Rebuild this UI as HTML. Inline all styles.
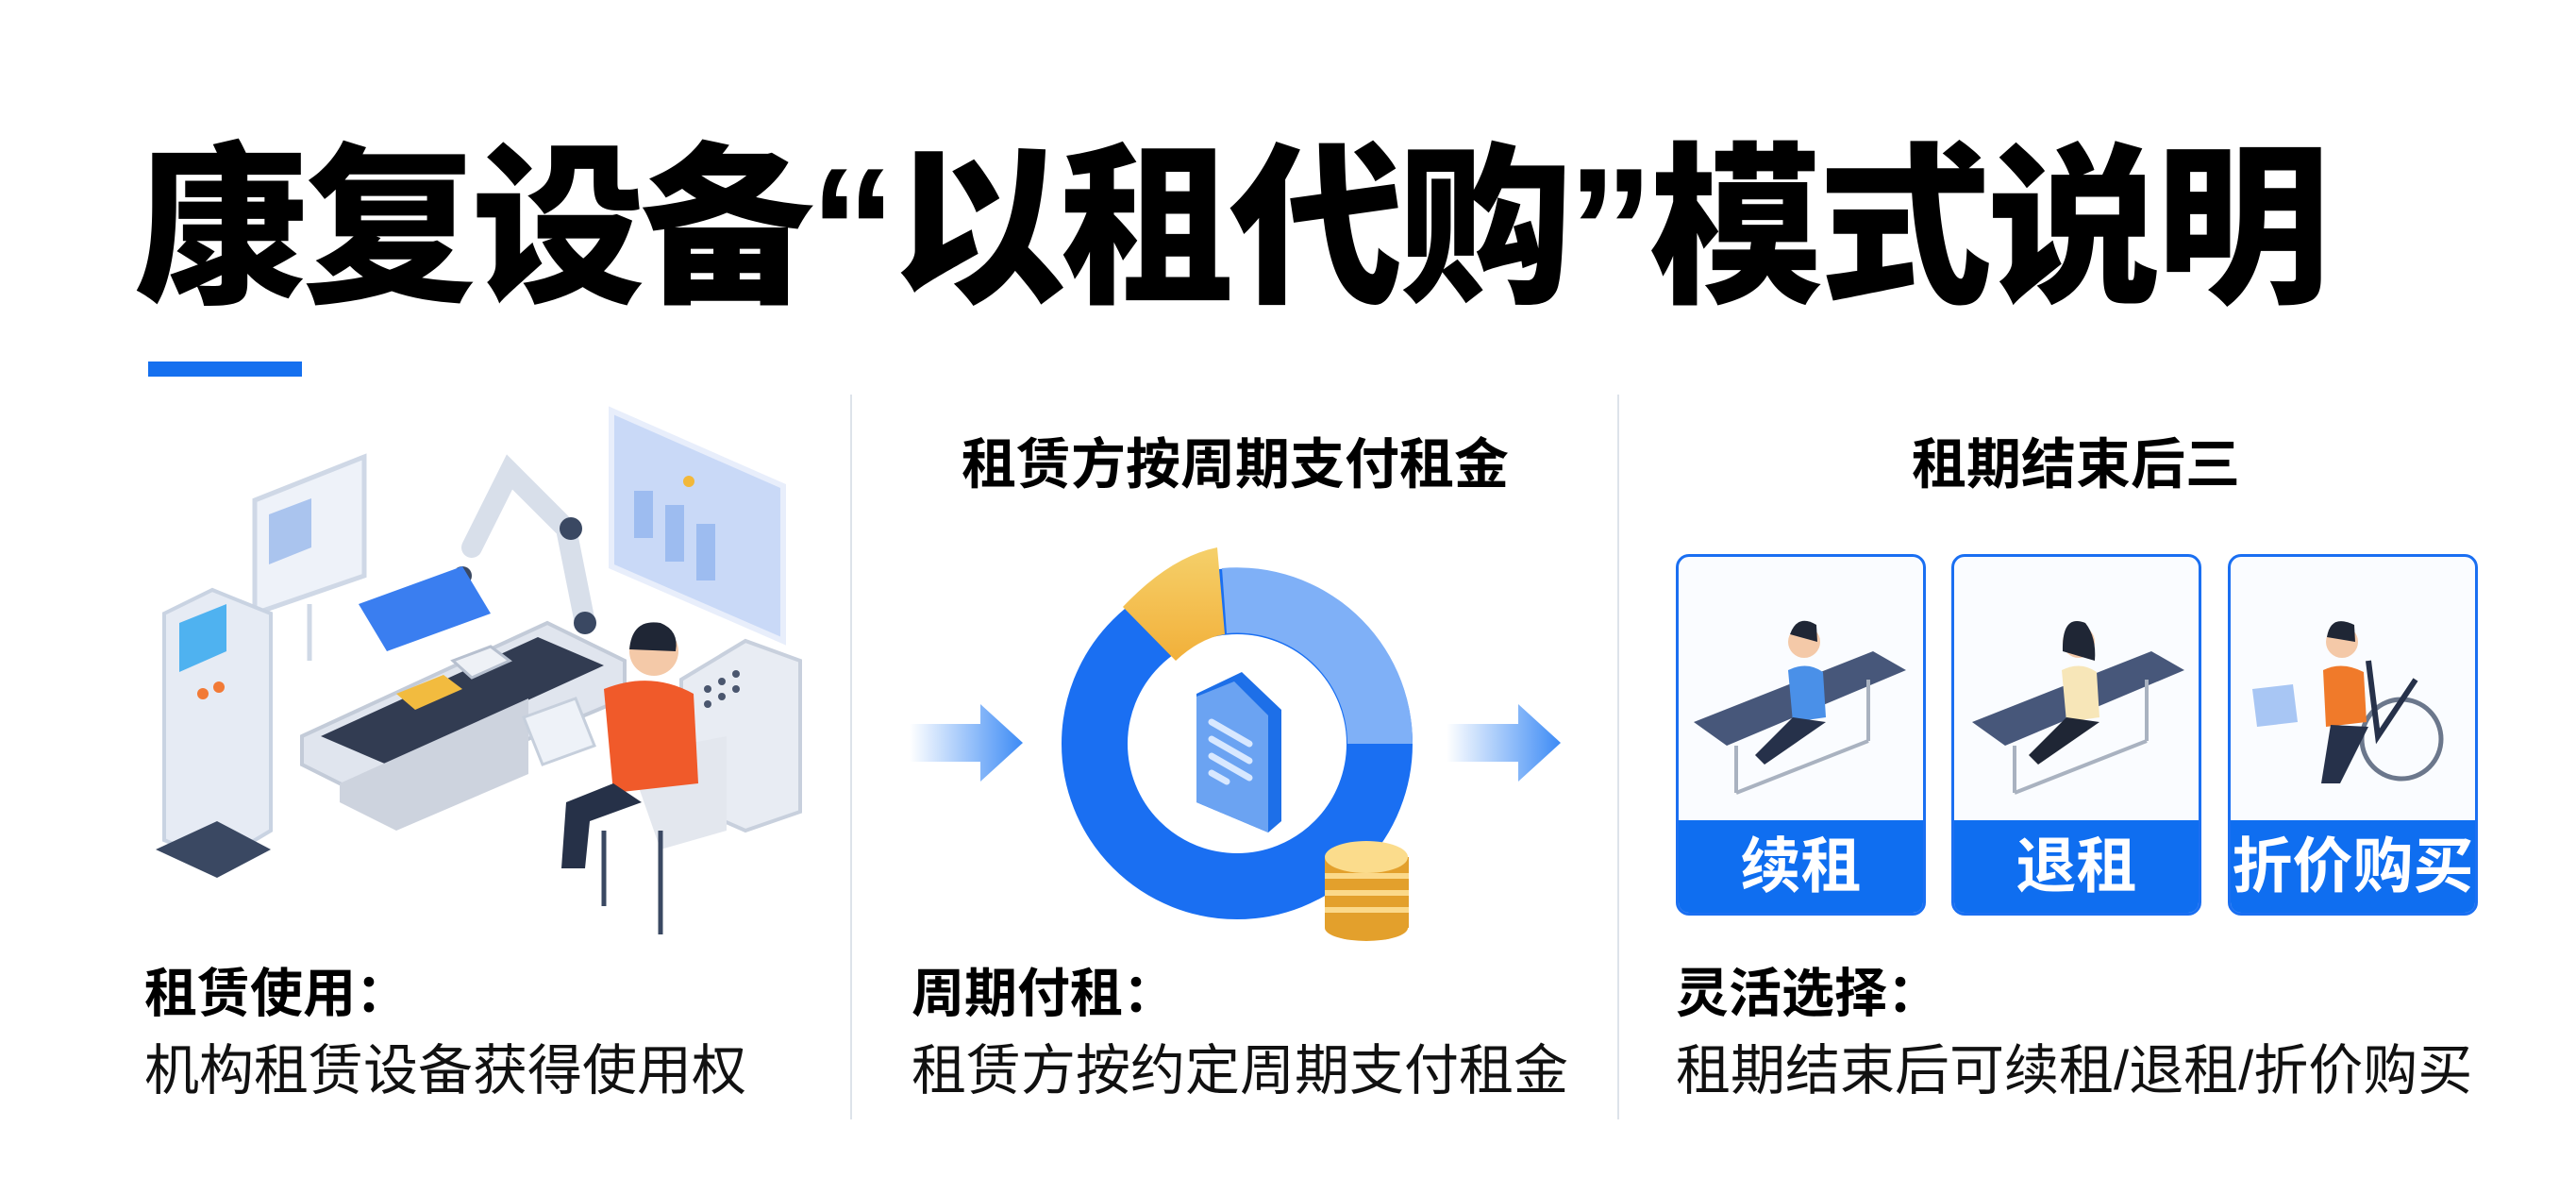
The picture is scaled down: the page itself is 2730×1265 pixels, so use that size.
<!DOCTYPE html>
<html><head><meta charset="utf-8"><style>
body{margin:0;width:2730px;height:1265px;background:#fff;position:relative;overflow:hidden;font-family:"Liberation Sans","Noto Sans CJK SC",sans-serif;color:#000}
.a{position:absolute;white-space:nowrap}
.t{left:142px;top:132px;font-size:184px;font-weight:900;letter-spacing:-5px;line-height:220px}
.h{font-size:58px;font-weight:700;line-height:70px;text-align:center}
.b1{font-size:56px;font-weight:700;line-height:70px}
.b2{font-size:58px;font-weight:400;line-height:70px;color:#111}
.lab{font-size:64px;font-weight:700;color:#fff;text-align:center;line-height:98px}
</style></head><body>
<div class="a t">康复设备“以租代购”模式说明</div>
<div class="a" style="left:157px;top:383px;width:163px;height:16px;background:#1570ef"></div>
<div class="a" style="left:901px;top:418px;width:2px;height:768px;background:#dde3ea"></div>
<div class="a" style="left:1714px;top:418px;width:2px;height:768px;background:#dde3ea"></div>

<div class="a h" style="left:1009px;width:600px;top:458px">租赁方按周期支付租金</div>
<div class="a h" style="left:1900px;width:600px;top:458px">租期结束后三</div>

<svg class="a" style="left:0;top:0" width="2730" height="1265">
<defs>
<linearGradient id="ar" x1="0" x2="1"><stop offset="0" stop-color="#3d8bf5" stop-opacity="0"/><stop offset="1" stop-color="#3d8bf5"/></linearGradient>
<linearGradient id="yl" x1="0" y1="0" x2="0" y2="1"><stop offset="0" stop-color="#f5d06a"/><stop offset="1" stop-color="#f2b03a"/></linearGradient>
</defs>
<polygon points="964,767 1039,767 1039,746 1084,787 1039,828 1039,807 964,807" fill="url(#ar)"/>
<polygon points="1533,767 1609,767 1609,746 1654,787 1609,828 1609,807 1533,807" fill="url(#ar)"/>
<circle cx="1311" cy="788" r="151" fill="none" stroke="#1a6ff2" stroke-width="70"/>
<path d="M1295,602 A186,186 0 0 1 1497,788 L1428,788 A117,117 0 0 0 1300,671 Z" fill="#7fb0f7"/>
<path d="M1190,643 Q1240,590 1290,580 L1298,672 Q1272,676 1246,700 Z" fill="url(#yl)"/>
<path d="M1268,735 L1316,712 L1358,752 L1358,870 L1344,882 L1268,850 Z" fill="#1d6fe8"/>
<path d="M1268,738 L1308,722 L1344,758 L1344,882 L1268,850 Z" fill="#6ba3f2"/>
<g stroke="#d8e8ff" stroke-width="7" stroke-linecap="round"><line x1="1284" y1="765" x2="1324" y2="788"/><line x1="1284" y1="783" x2="1324" y2="806"/><line x1="1284" y1="801" x2="1324" y2="824"/><line x1="1284" y1="819" x2="1300" y2="828"/></g>
<rect x="1404" y="908" width="89" height="75" fill="#e3a02c"/>
<g fill="#fbd98a"><rect x="1404" y="925" width="89" height="6"/><rect x="1404" y="943" width="89" height="6"/><rect x="1404" y="961" width="89" height="6"/></g>
<ellipse cx="1448" cy="983" rx="44" ry="14" fill="#e3a02c"/>
<ellipse cx="1448" cy="908" rx="44" ry="17" fill="#fbdc8c"/>

<polygon points="648,435 830,515 830,679 648,600" fill="#c9d9f7" stroke="#e8eefb" stroke-width="6"/>
<g fill="#9dbcf0"><rect x="672" y="520" width="20" height="50"/><rect x="705" y="535" width="20" height="60"/><rect x="738" y="555" width="20" height="60"/></g>
<circle cx="730" cy="510" r="6" fill="#f2b83a"/>
<polygon points="270,530 386,484 386,610 270,650" fill="#eef2f9" stroke="#cfd8e6" stroke-width="5"/>
<polygon points="285,545 330,528 330,580 285,598" fill="#aac4ee"/>
<line x1="328" y1="640" x2="328" y2="700" stroke="#cfd8e6" stroke-width="5"/>
<polygon points="174,650 225,625 287,650 287,880 230,914 174,890" fill="#e6ebf4" stroke="#c9d3e2" stroke-width="4"/>
<polygon points="190,660 240,640 240,690 190,712" fill="#4fb2f0"/>
<g fill="#f27a36"><circle cx="215" cy="735" r="6"/><circle cx="232" cy="728" r="6"/></g>
<polygon points="165,900 230,930 287,900 230,870" fill="#3a4862"/>
<path d="M500,580 L540,500 L600,560 L620,660" fill="none" stroke="#d8dfea" stroke-width="22" stroke-linecap="round"/>
<circle cx="490" cy="610" r="10" fill="#3a4862"/><circle cx="605" cy="560" r="12" fill="#3a4862"/><circle cx="620" cy="660" r="12" fill="#3a4862"/>
<polygon points="380,640 490,600 520,650 410,690" fill="#3a7ef0"/>
<polygon points="320,780 580,660 662,700 662,740 400,850 320,810" fill="#e0e5ee" stroke="#c3cbd8" stroke-width="4"/>
<polygon points="340,780 570,675 640,705 410,810" fill="#323c52"/>
<polygon points="420,735 470,715 490,730 440,752" fill="#f2bb3f"/>
<polygon points="480,700 520,685 540,700 500,718" fill="#eef1f6" stroke="#b7c0cf" stroke-width="3"/>
<polygon points="360,830 560,740 560,820 420,880 360,850" fill="#cdd3de"/>
<polygon points="722,720 790,679 848,700 848,860 790,880 722,850" fill="#e8ecf3" stroke="#c8d0dd" stroke-width="4"/>
<g fill="#4a566e"><circle cx="750" cy="730" r="4"/><circle cx="765" cy="722" r="4"/><circle cx="780" cy="714" r="4"/><circle cx="750" cy="746" r="4"/><circle cx="765" cy="738" r="4"/><circle cx="780" cy="730" r="4"/></g>
<polygon points="665,800 770,780 770,880 700,900" fill="#e3e7ee"/>
<circle cx="693" cy="690" r="26" fill="#f4c9a8"/><path d="M667,688 Q670,655 700,660 Q720,668 716,690 Z" fill="#1f2635"/>
<path d="M640,730 Q690,710 735,735 L740,830 L650,840 Z" fill="#f05a2a"/>
<polygon points="555,760 610,740 630,790 575,810" fill="#eef2f8" stroke="#c6cfdc" stroke-width="3"/>
<path d="M650,830 L600,850 L595,920 L620,920 L625,870 L680,850 Z" fill="#263148"/>
<line x1="700" y1="880" x2="700" y2="990" stroke="#3a4862" stroke-width="5"/>
<line x1="640" y1="880" x2="640" y2="960" stroke="#3a4862" stroke-width="5"/>
</svg>

<div class="a" style="left:1776px;top:587px;width:259px;height:377px;border:3px solid #1a6ff2;border-radius:14px;overflow:hidden;background:#fafcff">
<div style="position:absolute;left:0;right:0;bottom:0;height:98px;background:#0f6ef0" class="lab">续租</div></div>
<div class="a" style="left:2068px;top:587px;width:259px;height:377px;border:3px solid #1a6ff2;border-radius:14px;overflow:hidden;background:#fafcff">
<div style="position:absolute;left:0;right:0;bottom:0;height:98px;background:#0f6ef0" class="lab">退租</div></div>
<div class="a" style="left:2361px;top:587px;width:259px;height:377px;border:3px solid #1a6ff2;border-radius:14px;overflow:hidden;background:#fafcff">
<div style="position:absolute;left:0;right:0;bottom:0;height:98px;background:#0f6ef0" class="lab">折价购买</div></div>
<svg class="a" style="left:0;top:0" width="2730" height="1265">
<polygon points="1795,765 1985,690 2020,710 1830,790" fill="#47577a"/>
<g stroke="#a9b2c0" stroke-width="4" fill="none"><line x1="1840" y1="790" x2="1840" y2="840"/><line x1="1980" y1="720" x2="1980" y2="785"/><line x1="1840" y1="840" x2="1980" y2="785"/></g>
<circle cx="1912" cy="680" r="17" fill="#f4c9a8"/><path d="M1897,672 Q1905,650 1925,662 L1926,680 Z" fill="#1f2635"/>
<path d="M1895,710 Q1915,700 1932,712 L1935,760 L1900,765 Z" fill="#4a90e8"/>
<path d="M1900,760 L1860,800 L1870,810 L1935,765 Z" fill="#26314a"/>
<polygon points="2090,765 2280,690 2315,710 2125,790" fill="#47577a"/>
<g stroke="#a9b2c0" stroke-width="4" fill="none"><line x1="2135" y1="790" x2="2135" y2="840"/><line x1="2275" y1="720" x2="2275" y2="785"/><line x1="2135" y1="840" x2="2275" y2="785"/></g>
<circle cx="2203" cy="680" r="17" fill="#f4c9a8"/><path d="M2186,690 Q2185,650 2210,660 Q2222,675 2220,700 Z" fill="#1f2635"/>
<path d="M2185,710 Q2205,700 2222,712 L2225,760 L2190,765 Z" fill="#f7e6b8"/>
<path d="M2190,760 L2150,800 L2160,810 L2225,765 Z" fill="#1f2635"/>
<circle cx="2545" cy="783" r="42" fill="none" stroke="#6b778c" stroke-width="5"/>
<path d="M2510,700 L2520,780 L2560,720" fill="none" stroke="#26314a" stroke-width="6"/>
<circle cx="2482" cy="680" r="17" fill="#f4c9a8"/><path d="M2466,675 Q2470,650 2495,662 L2496,680 Z" fill="#1f2635"/>
<path d="M2462,710 Q2482,700 2505,712 L2508,765 L2465,770 Z" fill="#f07a2a"/>
<polygon points="2387,730 2430,725 2435,765 2392,770" fill="#a8c6f4"/>
<path d="M2470,768 L2510,770 L2480,830 L2460,830 Z" fill="#26314a"/>
</svg>

<div class="a b1" style="left:153px;top:1018px">租赁使用：</div>
<div class="a b2" style="left:153px;top:1100px">机构租赁设备获得使用权</div>
<div class="a b1" style="left:966px;top:1018px">周期付租：</div>
<div class="a b2" style="left:966px;top:1100px">租赁方按约定周期支付租金</div>
<div class="a b1" style="left:1776px;top:1018px">灵活选择：</div>
<div class="a b2" style="left:1776px;top:1100px">租期结束后可续租/退租/折价购买</div>
</body></html>
